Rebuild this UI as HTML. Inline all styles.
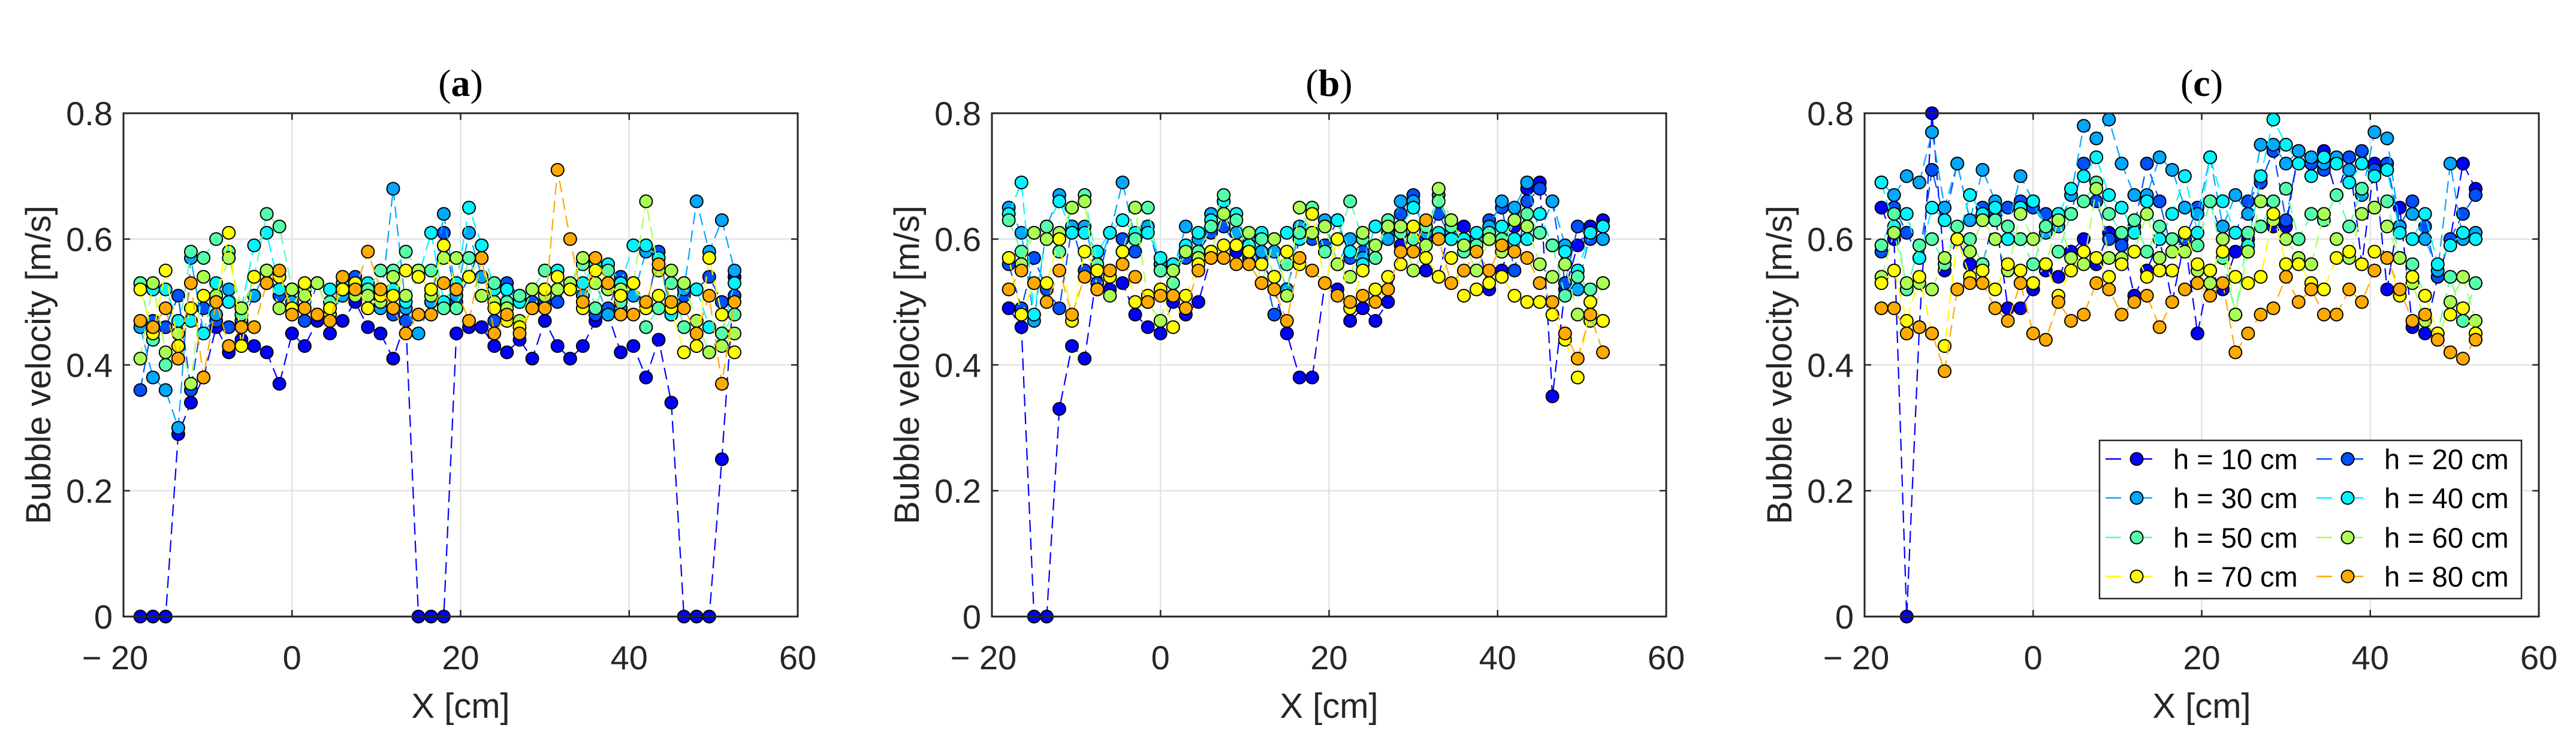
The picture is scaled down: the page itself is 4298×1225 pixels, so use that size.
<!DOCTYPE html>
<html><head><meta charset="utf-8">
<style>
html,body{margin:0;padding:0;background:#fff;}
svg{display:block;}
</style></head>
<body>
<svg id="fig" width="4298" height="1225" viewBox="0 0 4298 1225" xmlns="http://www.w3.org/2000/svg"></svg>
<script>
const xStart = -18, xStep = 1.5;
const seriesLabels = ["h = 10 cm","h = 20 cm","h = 30 cm","h = 40 cm","h = 50 cm","h = 60 cm","h = 70 cm","h = 80 cm"];
const xTicks = [-20,0,20,40,60];
const xTickLabels = ["\u2212 20","0","20","40","60"];
const yTicks = [0,0.2,0.4,0.6,0.8];
const yTickLabels = ["0","0.2","0.4","0.6","0.8"];
const panelTitles = ["a","b","c"];

const a10=[0,0,0,0.29,0.34,0.38,0.46,0.42, 0.44,0.43,0.42,0.37,0.45,0.43,0.47,0.45, 0.47,0.50,0.46,0.45,0.41,0.47,0,0, 0,0.45,0.46,0.46,0.43,0.42,0.44,0.41, 0.47,0.43,0.41,0.43,0.47,0.48,0.42,0.43, 0.38,0.44,0.34,0,0,0,0.25,0.54];
const a20=[0.36,0.47,0.46,0.51,0.36,0.49,0.47,0.46, 0.47,0.51,0.55,0.51,0.52,0.47,0.53,0.48, 0.51,0.54,0.49,0.50,0.48,0.47,0.48,0.50, 0.61,0.50,0.54,0.59,0.47,0.53,0.51,0.50, 0.50,0.50,0.53,0.51,0.48,0.49,0.54,0.53, 0.49,0.58,0.48,0.51,0.52,0.54,0.50,0.51];
const a30=[0.46,0.38,0.36,0.30,0.57,0.45,0.48,0.52, 0.49,0.51,0.55,0.54,0.50,0.52,0.53,0.48, 0.51,0.52,0.51,0.49,0.68,0.49,0.45,0.50, 0.64,0.51,0.61,0.54,0.53,0.52,0.50,0.52, 0.52,0.52,0.53,0.51,0.53,0.48,0.49,0.51, 0.58,0.57,0.48,0.52,0.66,0.58,0.63,0.55];
const a40=[0.53,0.52,0.52,0.47,0.47,0.45,0.53,0.50, 0.49,0.59,0.61,0.52,0.52,0.51,0.53,0.52, 0.53,0.52,0.53,0.52,0.52,0.50,0.54,0.61, 0.50,0.53,0.65,0.59,0.52,0.52,0.50,0.52, 0.55,0.55,0.52,0.53,0.56,0.56,0.53,0.59, 0.59,0.57,0.48,0.53,0.52,0.46,0.45,0.53];
const a50=[0.53,0.44,0.40,0.45,0.58,0.57,0.60,0.58, 0.48,0.54,0.64,0.62,0.52,0.52,0.48,0.50, 0.52,0.52,0.52,0.55,0.55,0.58,0.55,0.55, 0.49,0.49,0.57,0.51,0.53,0.50,0.51,0.52, 0.55,0.54,0.53,0.56,0.49,0.55,0.50,0.53, 0.46,0.49,0.53,0.46,0.47,0.42,0.45,0.48];
const a60=[0.41,0.53,0.42,0.45,0.37,0.54,0.51,0.57, 0.49,0.54,0.55,0.49,0.52,0.51,0.53,0.48, 0.52,0.51,0.51,0.50,0.54,0.51,0.55,0.51, 0.57,0.57,0.54,0.51,0.50,0.49,0.47,0.52, 0.51,0.52,0.53,0.57,0.53,0.52,0.52,0.53, 0.66,0.55,0.55,0.53,0.47,0.42,0.43,0.45];
const a70=[0.52,0.45,0.55,0.43,0.49,0.51,0.50,0.61, 0.43,0.54,0.53,0.54,0.49,0.53,0.48,0.49, 0.52,0.53,0.49,0.51,0.51,0.55,0.54,0.52, 0.59,0.52,0.54,0.57,0.49,0.47,0.46,0.49, 0.52,0.54,0.52,0.49,0.55,0.53,0.51,0.53, 0.49,0.51,0.49,0.42,0.43,0.57,0.48,0.42];
const a80=[0.47,0.46,0.49,0.41,0.53,0.38,0.50,0.43, 0.46,0.46,0.53,0.55,0.48,0.49,0.48,0.47, 0.54,0.52,0.58,0.52,0.49,0.45,0.48,0.48, 0.53,0.52,0.47,0.57,0.45,0.48,0.45,0.49, 0.49,0.71,0.60,0.50,0.57,0.53,0.48,0.48, 0.50,0.56,0.50,0.49,0.45,0.51,0.37,0.50];

const b10=[0.49,0.46,0,0,0.33,0.43,0.41,0.55, 0.52,0.53,0.48,0.46,0.45,0.50,0.48,0.50, 0.57,0.57,0.58,0.58,0.57,0.52,0.45,0.38, 0.38,0.53,0.52,0.47,0.49,0.47,0.50,0.59, 0.62,0.55,0.54,0.63,0.62,0.60,0.52,0.55, 0.62,0.68,0.69,0.35,0.52,0.59,0.62,0.63];
const b20=[0.56,0.49,0.57,0.52,0.49,0.62,0.55,0.53, 0.61,0.60,0.58,0.62,0.55,0.56,0.57,0.58, 0.61,0.62,0.59,0.57,0.57,0.48,0.52,0.60, 0.60,0.59,0.63,0.57,0.58,0.57,0.61,0.64, 0.67,0.60,0.64,0.60,0.59,0.58,0.63,0.65, 0.55,0.66,0.68,0.66,0.53,0.62,0.60,0.62];
const b30=[0.65,0.61,0.47,0.62,0.67,0.62,0.62,0.55, 0.61,0.69,0.60,0.62,0.56,0.55,0.62,0.60, 0.64,0.66,0.61,0.60,0.58,0.58,0.52,0.62, 0.61,0.63,0.56,0.60,0.57,0.62,0.60,0.66, 0.66,0.61,0.67,0.61,0.59,0.60,0.62,0.66, 0.65,0.69,0.61,0.66,0.59,0.52,0.61,0.60];
const b40=[0.64,0.69,0.48,0.62,0.66,0.61,0.61,0.58, 0.61,0.63,0.61,0.61,0.57,0.56,0.59,0.61, 0.63,0.66,0.64,0.59,0.61,0.60,0.61,0.60, 0.64,0.62,0.63,0.58,0.56,0.62,0.63,0.62, 0.65,0.62,0.61,0.60,0.60,0.61,0.60,0.62, 0.60,0.60,0.64,0.59,0.58,0.55,0.61,0.62];
const b50=[0.63,0.58,0.61,0.62,0.58,0.65,0.67,0.56, 0.54,0.58,0.60,0.65,0.55,0.53,0.58,0.58, 0.62,0.67,0.63,0.58,0.60,0.54,0.56,0.61, 0.65,0.58,0.60,0.66,0.60,0.57,0.63,0.61, 0.60,0.62,0.66,0.62,0.58,0.59,0.61,0.60, 0.63,0.64,0.61,0.59,0.51,0.54,0.52,0.53];
const b60=[0.57,0.56,0.61,0.60,0.61,0.65,0.66,0.52, 0.51,0.58,0.65,0.50,0.47,0.55,0.58,0.57, 0.58,0.64,0.59,0.61,0.53,0.60,0.51,0.65, 0.61,0.62,0.56,0.54,0.61,0.59,0.62,0.62, 0.55,0.59,0.68,0.63,0.59,0.55,0.60,0.58, 0.63,0.62,0.56,0.54,0.56,0.48,0.47,0.53];
const b70=[0.57,0.48,0.53,0.53,0.60,0.47,0.58,0.55, 0.54,0.58,0.50,0.51,0.52,0.46,0.51,0.56, 0.58,0.59,0.59,0.58,0.56,0.54,0.58,0.56, 0.64,0.53,0.60,0.49,0.55,0.52,0.54,0.56, 0.62,0.57,0.54,0.57,0.51,0.52,0.53,0.54, 0.51,0.50,0.50,0.48,0.44,0.38,0.50,0.47];
const b80=[0.52,0.55,0.53,0.50,0.55,0.48,0.54,0.52, 0.55,0.56,0.54,0.50,0.51,0.51,0.49,0.55, 0.57,0.57,0.56,0.56,0.53,0.52,0.47,0.57, 0.55,0.53,0.51,0.50,0.51,0.50,0.52,0.58, 0.58,0.63,0.60,0.53,0.55,0.58,0.55,0.59, 0.58,0.57,0.53,0.50,0.45,0.41,0.48,0.42];

const c10=[0.65,0.60,0,0.46,0.80,0.55,0.60,0.56, 0.56,0.64,0.49,0.49,0.52,0.55,0.54,0.58, 0.60,0.56,0.61,0.60,0.51,0.55,0.60,0.50, 0.60,0.45,0.55,0.52,0.58,0.60,0.69,0.62, 0.62,0.74,0.72,0.74,0.67,0.73,0.56,0.72, 0.52,0.65,0.46,0.45,0.54,0.60,0.72,0.68];
const c20=[0.58,0.65,0.61,0.57,0.71,0.63,0.72,0.63, 0.65,0.64,0.65,0.66,0.65,0.64,0.63,0.64, 0.72,0.66,0.60,0.59,0.62,0.72,0.66,0.58, 0.60,0.65,0.66,0.60,0.61,0.66,0.69,0.74, 0.63,0.74,0.72,0.71,0.72,0.73,0.74,0.71, 0.72,0.62,0.66,0.62,0.54,0.60,0.64,0.67];
const c30=[0.69,0.67,0.70,0.69,0.77,0.65,0.72,0.63, 0.71,0.66,0.62,0.70,0.66,0.61,0.62,0.67, 0.78,0.76,0.79,0.72,0.67,0.67,0.73,0.71, 0.65,0.64,0.73,0.62,0.67,0.64,0.75,0.75, 0.72,0.74,0.73,0.72,0.73,0.71,0.67,0.77, 0.76,0.62,0.64,0.60,0.55,0.72,0.60,0.61];
const c40=[0.69,0.62,0.64,0.57,0.65,0.63,0.60,0.67, 0.64,0.65,0.60,0.65,0.66,0.62,0.64,0.68, 0.70,0.73,0.67,0.65,0.61,0.66,0.60,0.64, 0.70,0.61,0.73,0.66,0.61,0.59,0.70,0.79, 0.75,0.72,0.70,0.73,0.72,0.69,0.72,0.70, 0.71,0.61,0.60,0.64,0.56,0.59,0.61,0.60];
const c50=[0.59,0.64,0.52,0.59,0.60,0.56,0.62,0.60, 0.56,0.63,0.62,0.60,0.56,0.62,0.58,0.64, 0.66,0.69,0.64,0.61,0.63,0.58,0.62,0.60, 0.58,0.59,0.66,0.57,0.48,0.61,0.62,0.66, 0.68,0.60,0.64,0.63,0.67,0.62,0.68,0.65, 0.66,0.57,0.56,0.51,0.45,0.54,0.47,0.53];
const c60=[0.54,0.61,0.53,0.53,0.52,0.57,0.60,0.58, 0.63,0.60,0.55,0.64,0.60,0.56,0.63,0.57, 0.56,0.68,0.57,0.57,0.58,0.64,0.57,0.58, 0.58,0.55,0.53,0.60,0.48,0.58,0.66,0.63, 0.60,0.57,0.56,0.64,0.60,0.57,0.64,0.65, 0.62,0.57,0.53,0.47,0.44,0.50,0.54,0.47];
const c70=[0.53,0.55,0.47,0.54,0.45,0.43,0.60,0.54, 0.55,0.52,0.56,0.55,0.53,0.56,0.51,0.55, 0.58,0.57,0.54,0.56,0.58,0.54,0.55,0.55, 0.61,0.56,0.55,0.58,0.54,0.53,0.54,0.64, 0.56,0.56,0.53,0.52,0.57,0.58,0.56,0.58, 0.57,0.51,0.54,0.51,0.45,0.48,0.49,0.45];
const c80=[0.49,0.49,0.45,0.46,0.45,0.39,0.52,0.53, 0.53,0.49,0.47,0.53,0.45,0.44,0.50,0.47, 0.48,0.53,0.52,0.48,0.50,0.51,0.46,0.50, 0.52,0.53,0.51,0.53,0.42,0.45,0.48,0.49, 0.54,0.50,0.52,0.48,0.48,0.52,0.50,0.55, 0.57,0.52,0.47,0.48,0.44,0.42,0.41,0.44];

const NS="http://www.w3.org/2000/svg";
const svg=document.getElementById('fig');
const colors=["#0000ff","#0050ff","#00a8ff","#00f5ff","#55ffaa","#aaff55","#ffff00","#ffaa00"];
const panelLeft=[206,1655,3111], plotW=1125, plotTop=189, plotBot=1029;
const FONT='"Liberation Sans", Arial, sans-serif';
function el(tag,attrs,parent){const e=document.createElementNS(NS,tag);for(const k in attrs)e.setAttribute(k,attrs[k]);(parent||svg).appendChild(e);return e;}
const panelData=[[a10,a20,a30,a40,a50,a60,a70,a80],[b10,b20,b30,b40,b50,b60,b70,b80],[c10,c20,c30,c40,c50,c60,c70,c80]];

panelData.forEach((series,p)=>{
  const L=panelLeft[p], R=L+plotW;
  const xs=v=>L+(v-(-20))/80*plotW;
  const ys=v=>plotBot-(v/0.8)*(plotBot-plotTop);
  const g=el('g',{});
  
  
  xTicks.slice(1,-1).forEach(t=>{const l=el('line',{x1:xs(t),x2:xs(t),y1:plotTop,y2:plotBot,stroke:'#e3e3e3','stroke-width':2.5},g);});
  yTicks.slice(1,-1).forEach(t=>{const l=el('line',{x1:L,x2:R,y1:ys(t),y2:ys(t),stroke:'#e3e3e3','stroke-width':2.5},g);});
  series.forEach((vals,s)=>{
    const sg=el('g',{},g);
    
    
    const pts=vals.map((v,i)=>xs(xStart+i*xStep).toFixed(1)+','+ys(v).toFixed(1)).join(' ');
    const pl=el('polyline',{points:pts,fill:'none',stroke:colors[s],'stroke-width':2.2,'stroke-dasharray':'20,10'},sg);
    
    
    vals.forEach((v,i)=>{
      const c=el('circle',{cx:xs(xStart+i*xStep),cy:ys(v),r:10.5,fill:colors[s],stroke:'#000','stroke-width':2},sg);
      
      
    });
  });
  const box=el('rect',{x:L,y:plotTop,width:plotW,height:plotBot-plotTop,fill:'none',stroke:'#262626','stroke-width':3},g);
  
  
  xTicks.forEach((t,i)=>{
    el('line',{x1:xs(t),x2:xs(t),y1:plotBot,y2:plotBot-11,stroke:'#262626','stroke-width':2.5},g);
    el('line',{x1:xs(t),x2:xs(t),y1:plotTop,y2:plotTop+11,stroke:'#262626','stroke-width':2.5},g);
    const tx=el('text',{x:xs(t)-(i===0?14:0),y:1117,'font-size':56,'text-anchor':'middle',fill:'#262626','font-family':FONT},g);
    tx.textContent=xTickLabels[i];
    
    
  });
  yTicks.forEach((t,i)=>{
    el('line',{x1:L,x2:L+11,y1:ys(t),y2:ys(t),stroke:'#262626','stroke-width':2.5},g);
    el('line',{x1:R,x2:R-11,y1:ys(t),y2:ys(t),stroke:'#262626','stroke-width':2.5},g);
    const ty=el('text',{x:L-18,y:ys(t)+20,'font-size':56,'text-anchor':'end',fill:'#262626','font-family':FONT},g);
    ty.textContent=yTickLabels[i];
    
    
  });
  const xl=el('text',{x:L+plotW/2,y:1198,'font-size':58,'text-anchor':'middle',fill:'#262626','font-family':FONT},g);
  xl.textContent='X [cm]';
  
  
  const yl=el('text',{x:0,y:0,'font-size':58,'text-anchor':'middle',fill:'#262626','font-family':FONT,transform:`translate(${L-122},${(plotTop+plotBot)/2}) rotate(-90)`},g);
  yl.textContent='Bubble velocity [m/s]';
  
  
  const tt=el('text',{x:L+plotW/2,y:160,'font-size':64,'text-anchor':'middle',fill:'#000','font-family':'"Liberation Serif", serif'},g);
  tt.innerHTML='(<tspan font-weight="bold">'+panelTitles[p]+'</tspan>)';
  
  
});

const lg=el('g',{});


el('rect',{x:3503,y:735,width:704,height:264,fill:'#fff',stroke:'#262626','stroke-width':2.5},lg);
const colLineX=[3513,3865], rowY=[766,831,897,962];
seriesLabels.forEach((lab,s)=>{
  const col=s%2,row=Math.floor(s/2);
  const x0=colLineX[col],y=rowY[row];
  const eg=el('g',{},lg);
  
  
  el('line',{x1:x0,x2:x0+103,y1:y,y2:y,stroke:colors[s],'stroke-width':2.5,'stroke-dasharray':'26,26'},eg);
  el('circle',{cx:x0+52,cy:y,r:10.5,fill:colors[s],stroke:'#000','stroke-width':2},eg);
  const t=el('text',{x:x0+113,y:y+17,'font-size':47,fill:'#000','font-family':FONT},eg);
  t.textContent=lab;
});
</script>
</body></html>
